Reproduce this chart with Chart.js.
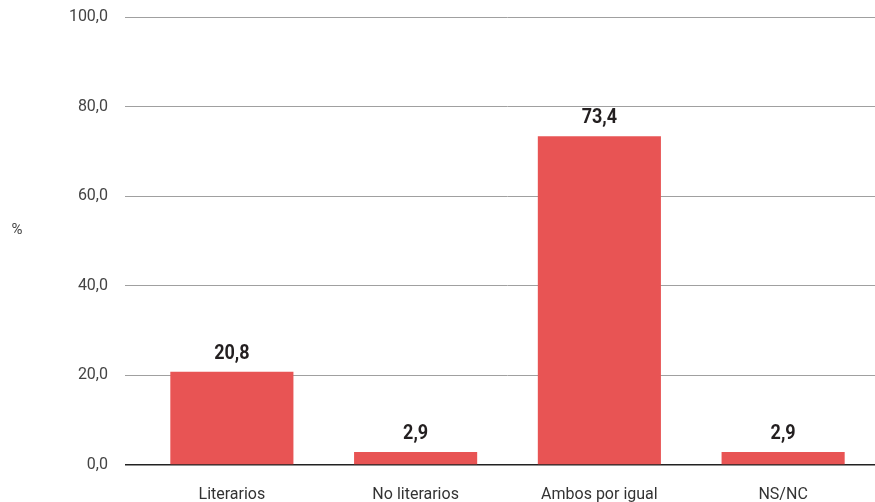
<!DOCTYPE html>
<html>
<head>
<meta charset="utf-8">
<script src="https://cdn.jsdelivr.net/npm/chart.js@4/dist/chart.umd.min.js"></script>
<style>
html,body{margin:0;padding:0;background:#fff;}
#wrap{width:875px;height:502px;position:relative;}
</style>
</head>
<body>
<div id="wrap"><canvas id="c" width="875" height="502"></canvas></div>
<script>
const categories = ["Literarios", "No literarios", "Ambos por igual", "NS/NC"];
const values = [20.8, 2.9, 73.4, 2.9];
const yTicks = [0, 20, 40, 60, 80, 100];
const yTitle = "%";

const fmt = v => Number(v).toFixed(1).replace('.', ',');

const labelPlugin = {
  id: 'labels',
  afterDatasetsDraw(chart) {
    const ctx = chart.ctx;
    const meta = chart.getDatasetMeta(0);
    ctx.save();
    ctx.fillStyle = '#231f20';
    ctx.font = 'bold 20px Roboto, sans-serif';
    ctx.textAlign = 'center';
    ctx.textBaseline = 'alphabetic';
    meta.data.forEach((bar, i) => {
      ctx.save();
      ctx.translate(bar.x, bar.y - 13);
      ctx.scale(0.9, 1);
      ctx.fillText(fmt(values[i]), 0, 0);
      ctx.restore();
    });
    const ys = chart.scales.y;
    ctx.font = '15px Roboto, sans-serif';
    ctx.fillStyle = '#444';
    ctx.textBaseline = 'middle';
    ctx.fillText(yTitle, 17, (ys.top + ys.bottom) / 2 - 11);
    ctx.restore();
  }
};

new Chart(document.getElementById('c'), {
  type: 'bar',
  data: {
    labels: categories,
    datasets: [{
      data: values,
      backgroundColor: '#e85454',
      borderWidth: 0,
      categoryPercentage: 1,
      barPercentage: 0.67
    }]
  },
  options: {
    responsive: false,
    animation: false,
    layout: { padding: { top: 17, right: 0, left: 0, bottom: 0 } },
    plugins: { legend: { display: false }, tooltip: { enabled: false } },
    scales: {
      x: {
        grid: { display: false },
        border: { display: false },
        ticks: { color: '#333', font: { family: 'Roboto', size: 16 }, padding: 12 },
        afterFit(s) { s.height = 37; s.paddingLeft = 0; s.paddingRight = 0; }
      },
      y: {
        min: 0, max: 100,
        afterBuildTicks(s) { s.ticks = yTicks.map(v => ({ value: v })); },
        grid: {
          color: c => c.tick && c.tick.value === 0 ? '#222' : '#a0a0a0',
          lineWidth: c => c.tick && c.tick.value === 0 ? 1.5 : 1,
          tickLength: 15,
          drawTicks: true
        },
        border: { display: false },
        ticks: {
          color: '#444',
          font: { family: 'Roboto', size: 16 },
          padding: 17,
          callback: v => fmt(v)
        },
        afterFit(s) { s.width = 140; s.paddingTop = 0; s.paddingBottom = 0; }
      }
    }
  },
  plugins: [labelPlugin]
});
</script>
</body>
</html>
